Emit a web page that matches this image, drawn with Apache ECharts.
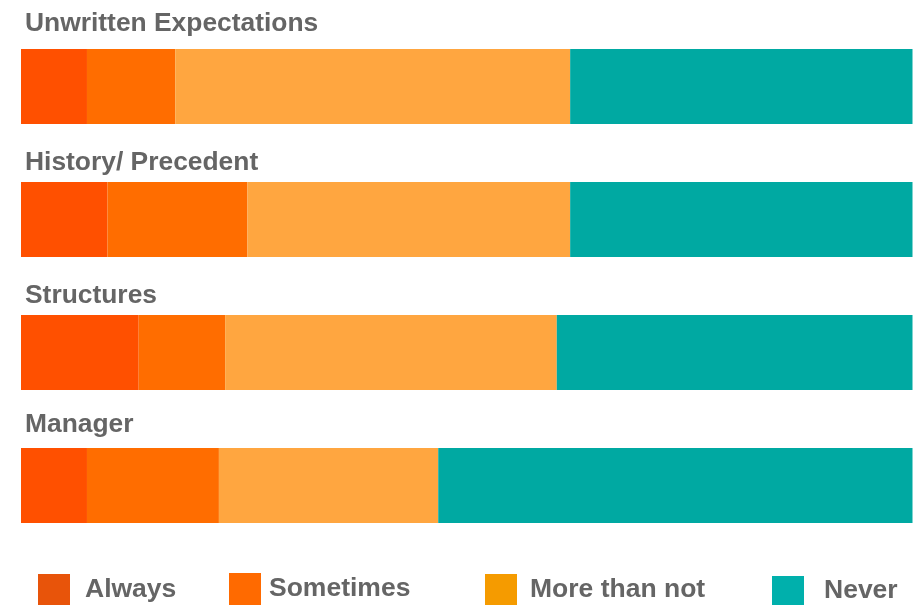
<!DOCTYPE html>
<html>
<head>
<meta charset="utf-8">
<script src="https://cdn.jsdelivr.net/npm/echarts@6/dist/echarts.min.js"></script>
<style>
html,body{margin:0;padding:0;background:#fff;}
#chart{width:923px;height:605px;}
</style>
</head>
<body>
<div id="chart"></div>
<script>
const categories = ['Unwritten Expectations', 'History/ Precedent', 'Structures', 'Manager'];
const seriesNames = ['Always', 'Sometimes', 'More than not', 'Never'];
const always = [7.4, 9.7, 13.2, 7.4];
const sometimes = [9.9, 15.7, 9.7, 14.8];
const moreThanNot = [44.3, 36.2, 37.2, 24.6];
const never = [38.4, 38.4, 39.9, 53.2];

const barColors = ['#FF5000', '#FF6D00', '#FFA640', '#00A9A2'];
const legendColors = ['#E8540A', '#FF6A00', '#F59B00', '#00B0AC'];
const FONT = '"Liberation Sans", Arial, sans-serif';

const chart = echarts.init(document.getElementById('chart'), null, {renderer: 'canvas'});
const values = [always, sometimes, moreThanNot, never];

const legendPos = [
  {left: 33, top: 569, pad: 10, h: 31},
  {left: 224, top: 568, pad: 3, h: 32},
  {left: 480, top: 569, pad: 8, h: 31},
  {left: 767, top: 571, pad: 15, h: 30}
];

const labelPad = [100, 88, 88, 95];
const rich = {};
labelPad.forEach((p, i) => {
  rich['r' + i] = {
    fontFamily: FONT, fontSize: 26.4, fontWeight: 'bold', color: '#656565',
    lineHeight: 26, padding: [0, 0, p, 0]
  };
});

chart.setOption({
  animation: false,
  backgroundColor: '#ffffff',
  grid: {left: 21, right: 10.5, top: 20, bottom: 53, containLabel: false},
  xAxis: {type: 'value', min: 0, max: 100, show: false},
  yAxis: {
    type: 'category', data: categories, inverse: true,
    axisLine: {show: false}, axisTick: {show: false}, splitLine: {show: false},
    axisLabel: {
      inside: true, margin: 4, align: 'left', verticalAlign: 'bottom',
      formatter: (v, i) => '{r' + i + '|' + v + '}',
      rich: rich
    }
  },
  legend: seriesNames.map((n, i) => ({
    left: legendPos[i].left, top: legendPos[i].top,
    itemWidth: 32, itemHeight: legendPos[i].h, icon: 'rect',
    selectedMode: false,
    data: [{name: n, itemStyle: {color: legendColors[i]}}],
    textStyle: {fontFamily: FONT, fontSize: 26.5, fontWeight: 'bold', color: '#656565', padding: [0, 0, 0, legendPos[i].pad]}
  })),
  series: seriesNames.map((n, i) => ({
    name: n, type: 'bar', stack: 'total', barWidth: 75,
    itemStyle: {color: barColors[i]},
    emphasis: {disabled: true},
    data: values[i]
  }))
});
</script>
</body>
</html>
